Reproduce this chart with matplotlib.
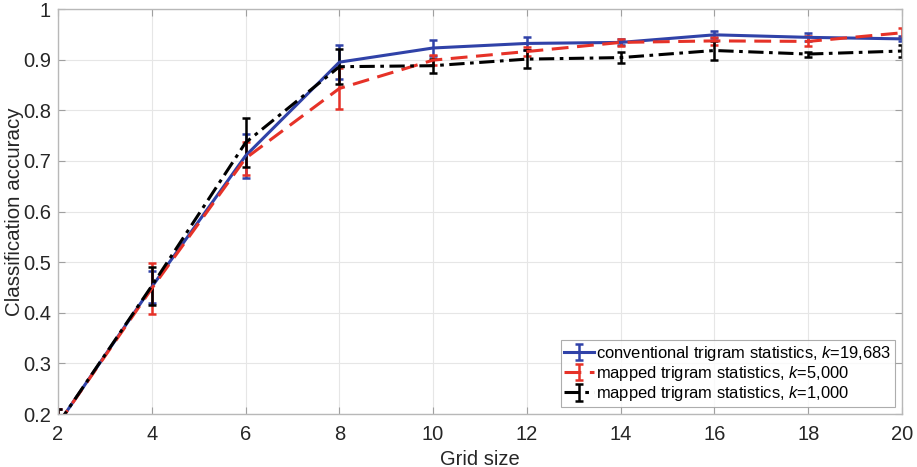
import numpy as np
import matplotlib
matplotlib.use("Agg")
import matplotlib.pyplot as plt

plt.rcParams['font.family'] = ['Liberation Sans', 'DejaVu Sans']
plt.rcParams['mathtext.fontset'] = 'custom'
plt.rcParams['mathtext.it'] = 'Liberation Sans:italic'
plt.rcParams['mathtext.rm'] = 'Liberation Sans'

grid_size = [2, 4, 6, 8, 10, 12, 14, 16, 18, 20]

conv_acc = [0.18, 0.451, 0.710, 0.895, 0.923, 0.932, 0.934, 0.949, 0.944, 0.941]
conv_err = [0.03, 0.032, 0.043, 0.033, 0.016, 0.012, 0.006, 0.007, 0.008, 0.005]

map5k_acc = [0.18, 0.448, 0.705, 0.843, 0.899, 0.916, 0.934, 0.937, 0.936, 0.953]
map5k_err = [0.03, 0.051, 0.033, 0.041, 0.010, 0.008, 0.007, 0.008, 0.010, 0.010]

map1k_acc = [0.18, 0.453, 0.736, 0.886, 0.888, 0.901, 0.904, 0.918, 0.911, 0.917]
map1k_err = [0.03, 0.037, 0.048, 0.035, 0.014, 0.018, 0.011, 0.018, 0.005, 0.012]

labels = ['conventional trigram statistics, $k$=19,683',
          'mapped trigram statistics, $k$=5,000',
          'mapped trigram statistics, $k$=1,000']

fig = plt.figure(figsize=(9.17, 4.67), dpi=100)
ax = fig.add_axes([58/917, 1 - 414/467, (902-58)/917, (414-9)/467])

series = [
    (conv_acc, conv_err, '#3042a8', '-'),
    (map5k_acc, map5k_err, '#e63228', (0, (5.5, 2.8))),
    (map1k_acc, map1k_err, 'black', (0, (5, 1.8, 1.2, 1.8))),
]
for (acc, err, col, ls), lab in zip(series, labels):
    eb = ax.errorbar(grid_size, acc, yerr=err, color=col, lw=2.2, elinewidth=1.8,
                     capsize=3, capthick=1.8, label=lab)
    eb[0].set_linestyle(ls)

ax.set_xlim(2, 20)
ax.set_ylim(0.2, 1)
ax.set_xticks(np.arange(2, 21, 2))
ax.set_yticks(np.arange(0.2, 1.01, 0.1))
ax.set_yticklabels(['0.2', '0.3', '0.4', '0.5', '0.6', '0.7', '0.8', '0.9', '1'])
ax.grid(True, color='#e6e6e6', lw=0.8)
ax.set_axisbelow(True)
ax.tick_params(direction='in', top=True, right=True, length=5, color='#a0a0a0',
               labelsize=14.5, labelcolor='#262626')
ax.tick_params(axis='x', pad=8)
ax.tick_params(axis='y', pad=5)
for s in ax.spines.values():
    s.set_color('#b8b8b8')
    s.set_linewidth(1.0)

ax.set_xlabel('Grid size', fontsize=14.5, color='#262626', labelpad=4)
ax.set_ylabel('Classification accuracy', fontsize=14.8, color='#262626')
ax.yaxis.set_label_coords(-0.040, 0.5)

leg = ax.legend(loc='lower right', fontsize=11.9, frameon=True, fancybox=False,
                edgecolor='#999999', handlelength=1.8, handletextpad=0.15,
                borderpad=0.2, labelspacing=0.08, borderaxespad=0.45)
leg.get_frame().set_linewidth(0.8)

fig.savefig('out.png', dpi=100)
